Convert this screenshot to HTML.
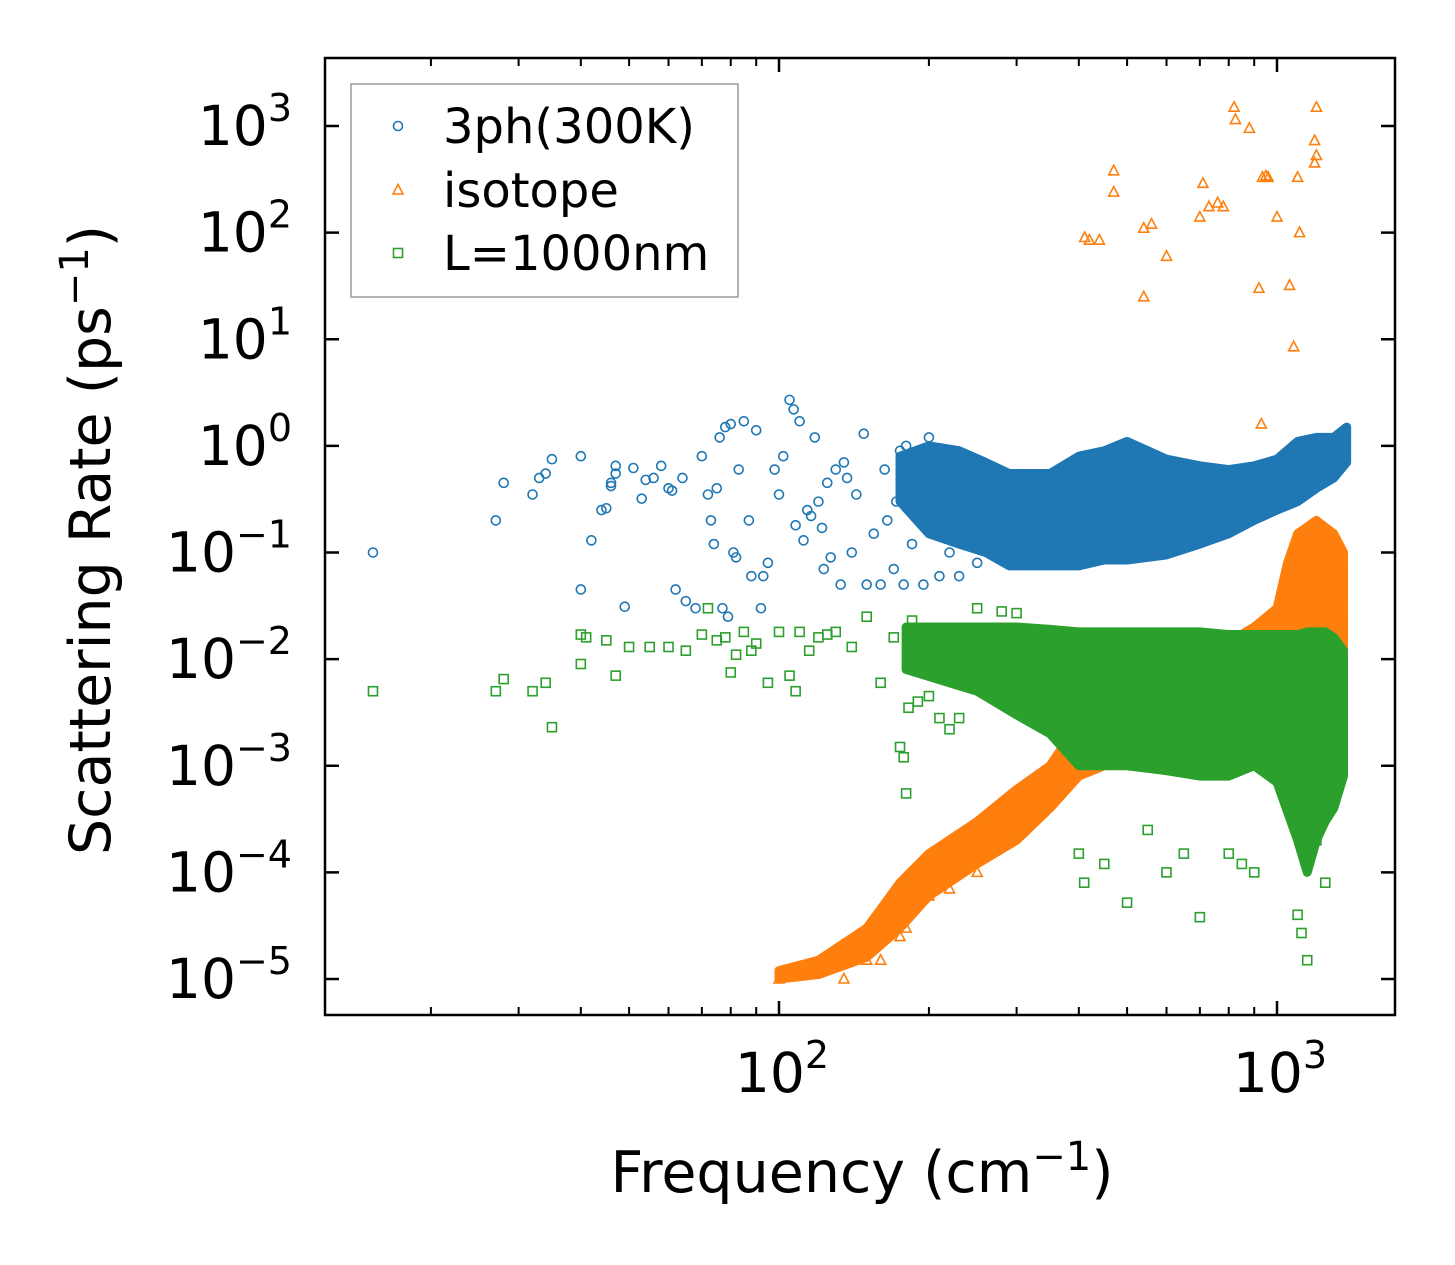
<!DOCTYPE html>
<html><head><meta charset="utf-8"><style>
html,body{margin:0;padding:0;background:#fff;}
svg{display:block;font-family:"DejaVu Sans","Liberation Sans",sans-serif;}
</style></head><body>
<svg id="chart" width="1455" height="1265" viewBox="0 0 1455 1265" xmlns="http://www.w3.org/2000/svg">
<g id="bands"></g><g id="marks"></g><g id="axes"></g>
</svg>
<script>
// ---- data ----
const blueF=[15.3,27,28,32,33,34,35,40,40,42,44,45,46,46,47,47,49,51,53,54,56,58,60,61,62,64,65,68,70,72,73,74,75,76,77,78,79,80,81,82,83,85,87,88,90,92,93,95,98,100,102,105,107,108,110,112,114,116,118,120,122,123,125,127,130,133,135,137,140,143,148,150,155,160,163,165,170,172,175,178,180,185,190,195,200,205,210,215,220,225,230,240,250,255,260,270];
const blueV=[0.1,0.2,0.45,0.35,0.5,0.55,0.75,0.8,0.045,0.13,0.25,0.26,0.45,0.42,0.65,0.55,0.031,0.62,0.32,0.48,0.5,0.65,0.4,0.38,0.045,0.5,0.035,0.03,0.8,0.35,0.2,0.12,0.4,1.2,0.03,1.5,0.025,1.6,0.1,0.09,0.6,1.7,0.2,0.06,1.4,0.03,0.06,0.08,0.6,0.35,0.8,2.7,2.2,0.18,1.7,0.13,0.25,0.22,1.2,0.3,0.17,0.07,0.45,0.09,0.6,0.05,0.7,0.5,0.1,0.35,1.3,0.05,0.15,0.05,0.6,0.2,0.07,0.3,0.9,0.05,1.0,0.12,0.55,0.05,1.2,0.2,0.06,0.9,0.1,0.5,0.06,0.3,0.08,0.7,0.15,0.4];
const blueBandF=[175,200,230,260,290,350,400,450,500,600,700,800,900,1000,1100,1200,1300,1380];
const blueBandLo=[0.3,0.15,0.12,0.1,0.075,0.075,0.075,0.085,0.085,0.095,0.12,0.15,0.2,0.25,0.3,0.4,0.5,0.7];
const blueBandHi=[0.8,1.0,0.9,0.7,0.55,0.55,0.8,0.9,1.1,0.75,0.65,0.6,0.65,0.75,1.1,1.2,1.2,1.5];

const orangeF=[411,420,440,470,470,540,540,560,600,700,710,730,760,780,820,825,880,920,935,950,960,1000,1060,1080,1100,1110,1200,1190,1200,1190,930,100,110,120,135,150,160,175,180,185,200,220,250];
const orangeV=[90,85,85,380,240,25,110,120,60,140,290,175,190,175,1500,1150,950,30,330,340,330,140,32,8.5,330,100,1500,730,530,450,1.6,1e-5,1.1e-5,1.2e-5,1e-5,1.5e-5,1.5e-5,2.5e-5,3e-5,5e-5,6e-5,7e-5,1e-4];
const orangeBandF=[100,120,150,175,200,250,300,350,400,450,500,700,900,1000,1050,1100,1200,1300,1360];
const orangeBandLo=[1e-5,1.1e-5,1.6e-5,3e-5,6e-5,1.2e-4,2e-4,4e-4,8e-4,1e-3,1.5e-3,3e-3,5e-3,8e-3,1e-2,1e-2,1e-2,1e-2,1e-2];
const orangeBandHi=[1.2e-5,1.5e-5,3e-5,8e-5,1.5e-4,3e-4,6e-4,1e-3,2.5e-3,4e-3,6e-3,1e-2,2e-2,3e-2,8e-2,1.5e-1,2e-1,1.5e-1,1e-1];

const greenF=[15.3,27,28,32,34,35,40,40,41,45,47,50,55,60,65,70,72,75,78,80,82,85,88,90,95,100,105,108,110,115,120,125,130,140,150,160,170,175,178,180,182,185,190,200,210,220,230,250,280,300,400,410,450,500,550,600,650,700,800,850,900,1100,1120,1150,1200,1250];
const greenV=[5e-3,5e-3,6.5e-3,5e-3,6e-3,2.3e-3,9e-3,1.7e-2,1.6e-2,1.5e-2,7e-3,1.3e-2,1.3e-2,1.3e-2,1.2e-2,1.7e-2,3e-2,1.5e-2,1.6e-2,7.5e-3,1.1e-2,1.8e-2,1.2e-2,1.4e-2,6e-3,1.8e-2,7e-3,5e-3,1.8e-2,1.2e-2,1.6e-2,1.7e-2,1.8e-2,1.3e-2,2.5e-2,6e-3,1.6e-2,1.5e-3,1.2e-3,5.5e-4,3.5e-3,2.3e-2,4e-3,4.5e-3,2.8e-3,2.2e-3,2.8e-3,3e-2,2.8e-2,2.7e-2,1.5e-4,8e-5,1.2e-4,5.2e-5,2.5e-4,1e-4,1.5e-4,3.8e-5,1.5e-4,1.2e-4,1e-4,4e-5,2.7e-5,1.5e-5,2e-4,8e-5];
const greenBandF=[180,220,250,300,350,400,450,500,600,700,800,900,1000,1100,1150,1200,1250,1300,1360];
const greenBandLo=[8e-3,6e-3,5e-3,3e-3,2e-3,1e-3,1e-3,1e-3,9e-4,8e-4,8e-4,1e-3,7e-4,2e-4,1e-4,2e-4,3e-4,4e-4,8e-4];
const greenBandHi=[2e-2,2e-2,2e-2,2e-2,1.9e-2,1.8e-2,1.8e-2,1.8e-2,1.8e-2,1.8e-2,1.7e-2,1.7e-2,1.7e-2,1.7e-2,1.8e-2,1.8e-2,1.8e-2,1.6e-2,1.2e-2];

const yTicks=[3,2,1,0,-1,-2,-3,-4,-5];
const xTicks=[2,3];
const xMinor=[20,30,40,50,60,70,80,90,200,300,400,500,600,700,800,900];

// ---- scales ----
const X0=325,X1=1395,Y0=58,Y1=1015;
const xs=f=>779+498*(Math.log10(f)-2);
const ys=v=>126+106.625*(3-Math.log10(v));
const NS="http://www.w3.org/2000/svg";
function mk(tag,attrs,parent){const e=document.createElementNS(NS,tag);for(const k in attrs)e.setAttribute(k,attrs[k]);parent.appendChild(e);return e;}
const bands=document.getElementById('bands'),marks=document.getElementById('marks'),axes=document.getElementById('axes');
const C={b:'#1f77b4',o:'#ff7f0e',g:'#2ca02c'};

function band(F,Lo,Hi,col,name){
  let pts=F.map((f,i)=>xs(f)+','+ys(Hi[i])).concat(F.slice().reverse().map((f,j)=>{const i=F.length-1-j;return xs(f)+','+ys(Lo[i]);}));
  const p=mk('polygon',{points:pts.join(' '),fill:col,stroke:col,'stroke-width':9,'stroke-linejoin':'round'},bands);
  
  
}
function circ(x,y,g){return mk('circle',{cx:x,cy:y,r:4.5,fill:'none',stroke:C.b,'stroke-width':1.6},g);}
function tri(x,y,g){return mk('polygon',{points:`${x},${y-5.5} ${x-5},${y+4} ${x+5},${y+4}`,fill:'none',stroke:C.o,'stroke-width':1.6},g);}
function sq(x,y,g){return mk('rect',{x:x-4.5,y:y-4.5,width:9,height:9,fill:'none',stroke:C.g,'stroke-width':1.6},g);}

const gB=mk('g',{},marks);
const gO=mk('g',{},marks);
const gG=mk('g',{},marks);

band(blueBandF,blueBandLo,blueBandHi,C.b,'band-3ph');
blueF.forEach((f,i)=>{const e=circ(xs(f),ys(blueV[i]),gB);

});
band(orangeBandF,orangeBandLo,orangeBandHi,C.o,'band-isotope');
orangeF.forEach((f,i)=>{const e=tri(xs(f),ys(orangeV[i]),gO);

});
band(greenBandF,greenBandLo,greenBandHi,C.g,'band-boundary');
greenF.forEach((f,i)=>{const e=sq(xs(f),ys(greenV[i]),gG);

});

// ---- axes ----
const frame=mk('rect',{x:X0,y:Y0,width:X1-X0,height:Y1-Y0,fill:'none',stroke:'#000','stroke-width':2.5},axes);


yTicks.forEach(p=>{const y=ys(Math.pow(10,p));
 mk('line',{x1:X0,x2:X0+14,y1:y,y2:y,stroke:'#000','stroke-width':2.5},axes);
 mk('line',{x1:X1,x2:X1-14,y1:y,y2:y,stroke:'#000','stroke-width':2.5},axes);
 const t=mk('text',{x:292,y:y+19,'text-anchor':'end','font-size':55},axes);
 
 
 t.innerHTML='10<tspan dy="-24" font-size="38">'+(p<0?'\u2212'+(-p):p)+'</tspan>';
});
xTicks.forEach(p=>{const x=xs(Math.pow(10,p));
 mk('line',{x1:x,x2:x,y1:Y1,y2:Y1-14,stroke:'#000','stroke-width':2.5},axes);
 mk('line',{x1:x,x2:x,y1:Y0,y2:Y0+14,stroke:'#000','stroke-width':2.5},axes);
 const t=mk('text',{x:x+3,y:1092,'text-anchor':'middle','font-size':55},axes);
 
 
 t.innerHTML='10<tspan dy="-24" font-size="38">'+p+'</tspan>';
});
xMinor.forEach(f=>{const x=xs(f);
 mk('line',{x1:x,x2:x,y1:Y1,y2:Y1-8,stroke:'#000','stroke-width':2},axes);
 mk('line',{x1:x,x2:x,y1:Y0,y2:Y0+8,stroke:'#000','stroke-width':2},axes);
});
const xl=mk('text',{x:862,y:1192,'text-anchor':'middle','font-size':57},axes);


xl.innerHTML='Frequency (cm<tspan dy="-22" font-size="40">\u22121</tspan><tspan dy="22">)</tspan>';
const yl=mk('text',{x:0,y:0,'text-anchor':'middle','font-size':57,transform:'translate(110,540) rotate(-90)'},axes);


yl.innerHTML='Scattering Rate (ps<tspan dy="-22" font-size="40">\u22121</tspan><tspan dy="22">)</tspan>';

// ---- legend ----
const lg=mk('g',{},axes);


mk('rect',{x:351,y:84,width:387,height:213,fill:'#fff','fill-opacity':0.8,stroke:'#999','stroke-width':1.5},lg);
const labels=['3ph(300K)','isotope','L=1000nm'];
const ly=[126,190,253];
circ(398,ly[0],lg);tri(398,ly[1],lg);sq(398,ly[2],lg);
labels.forEach((s,i)=>{const t=mk('text',{x:443,y:ly[i]+17,'font-size':48},lg);
 
 
 t.textContent=s;});
</script>
</body></html>
